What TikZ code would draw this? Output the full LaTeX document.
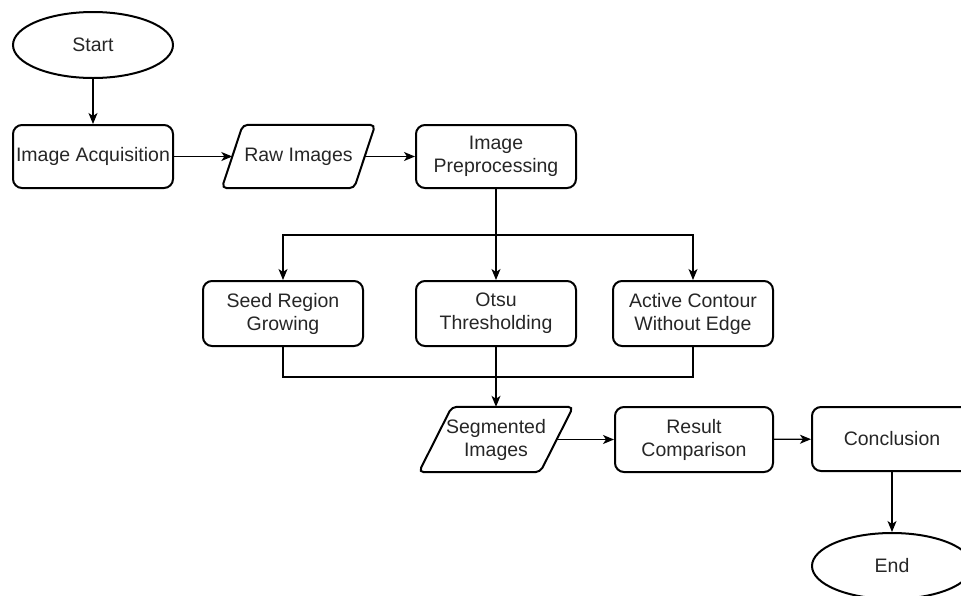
\documentclass[tikz,border=0pt]{standalone}
\usepackage{fontspec}
\setmainfont{Liberation Sans}
\usetikzlibrary{shapes.geometric,arrows.meta,calc}
\begin{document}
\begin{tikzpicture}[x=1pt,y=-1pt,
  every node/.style={font=\fontsize{19.5}{23}\selectfont, text=black!85, align=center, inner sep=0pt},
  box/.style={draw, line width=2pt, rounded corners=9pt, minimum width=160pt, minimum height=63pt},
  term/.style={draw, line width=2pt, ellipse, minimum width=160pt, minimum height=66pt},
  io/.style={rectangle, minimum height=63pt},
  ioline/.style={draw, line width=2pt, rounded corners=5pt},
  conn/.style={line width=1.3pt, -{Stealth[length=11pt,width=9pt,inset=3pt]}},
  line/.style={line width=1.3pt}
]
\useasboundingbox (0,0) rectangle (961,595);
\node[term] (start) at (93,45) {Start};
\node[box] (acq) at (93,156.5) {Image Acquisition};
\node[io, minimum width=153pt] (raw) at (298.5,156.5) {Raw Images};
\node[box] (pre) at (496,156.5) {Image\\Preprocessing};
\node[box, minimum height=65pt] (seed) at (283,313.5) {Seed Region\\Growing};
\node[box, minimum height=65pt] (otsu) at (496,313.5) {Otsu\\Thresholding};
\node[box, minimum height=65pt] (active) at (693,313.5) {Active Contour\\Without Edge};
\node[io, minimum width=154pt, minimum height=65pt] (seg) at (496,439.5) {Segmented\\Images};
\node[box, minimum width=158pt, minimum height=65pt] (res) at (694,439.5) {Result\\Comparison};
\node[box, minimum height=64pt] (conc) at (892,439) {Conclusion};
\node[term] (end) at (892,566) {End};

\draw[ioline] (raw.south west) -- ($(raw.north west)+(21,0)$) -- (raw.north east) -- ($(raw.south east)+(-21,0)$) -- cycle;
\draw[ioline] (seg.south west) -- ($(seg.north west)+(33,0)$) -- (seg.north east) -- ($(seg.south east)+(-33,0)$) -- cycle;

\coordinate (rawin) at ($(raw.west)+(10.5,0)$);
\coordinate (rawout) at ($(raw.east)+(-10.5,0)$);
\coordinate (segout) at ($(seg.east)+(-16.5,0)$);
\coordinate (split) at (496,235);
\coordinate (merge) at (496,377);

\draw[conn] (start) -- (acq);
\draw[conn] (acq) -- (rawin);
\draw[conn] (rawout) -- (pre);
\draw[conn] (pre) -- (otsu);
\draw[conn] (split) -| (seed.north);
\draw[conn] (split) -| (active.north);
\draw[line] (seed.south) |- (merge);
\draw[line] (active.south) |- (merge);
\draw[conn] (otsu) -- (seg);
\draw[conn] (segout) -- (res);
\draw[conn] (res) -- (conc);
\draw[conn] (conc) -- (end);
\end{tikzpicture}
\end{document}
